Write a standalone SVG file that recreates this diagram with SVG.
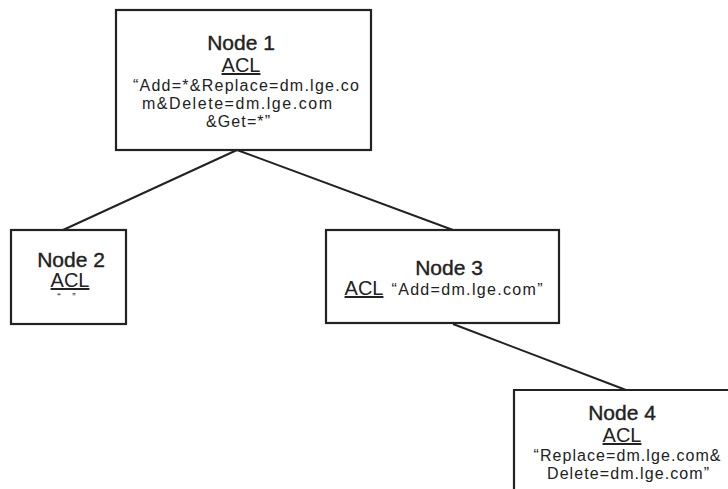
<svg xmlns="http://www.w3.org/2000/svg" width="728" height="489" viewBox="0 0 728 489">
<style>
.box{fill:#fff;stroke:#222;stroke-width:2.2}
.edge{stroke:#222;stroke-width:2;fill:none}
text{font-family:"Liberation Sans",Arial,sans-serif;fill:#222;text-anchor:middle}
.t{font-size:21px;stroke:#222;stroke-width:0.4}
.acl{font-size:20px;text-decoration:underline}
.v{font-size:16px}
.q{font-size:10px}
</style>
<rect width="728" height="489" fill="#fff"/>
<g id="connectors">
<line class="edge" x1="237" y1="150" x2="63" y2="230"/>
<line class="edge" x1="237" y1="150" x2="453" y2="230"/>
<line class="edge" x1="453" y1="324" x2="626" y2="390"/>
</g>
<g id="node1">
<rect class="box" x="116" y="10" width="255" height="140"/>
<text class="t" x="241" y="50">Node 1</text>
<text class="acl" x="241" y="72">ACL</text>
<text class="v" x="246" y="91" textLength="226" lengthAdjust="spacing">“Add=*&amp;Replace=dm.lge.co</text>
<text class="v" x="237" y="109" textLength="190" lengthAdjust="spacing">m&amp;Delete=dm.lge.com</text>
<text class="v" x="238" y="127" textLength="64" lengthAdjust="spacing">&amp;Get=*”</text>
</g>
<g id="node2">
<rect class="box" x="11" y="230" width="115" height="94"/>
<text class="t" x="71" y="267">Node 2</text>
<text class="acl" x="70" y="287">ACL</text>
<text class="q" x="59" y="301">“</text>
<text class="q" x="74" y="301">”</text>
</g>
<g id="node3">
<rect class="box" x="326" y="230" width="233" height="93"/>
<text class="t" x="449" y="275">Node 3</text>
<text class="acl" x="364" y="295">ACL</text>
<text class="v" x="467" y="295" textLength="151" lengthAdjust="spacing">“Add=dm.lge.com”</text>
</g>
<g id="node4">
<path class="box" d="M514 500 V390 H740"/>
<text class="t" x="622" y="420">Node 4</text>
<text class="acl" x="622" y="442">ACL</text>
<text class="v" x="627" y="461" textLength="187" lengthAdjust="spacing">“Replace=dm.lge.com&amp;</text>
<text class="v" x="628" y="479" textLength="162" lengthAdjust="spacing">Delete=dm.lge.com”</text>
</g>
</svg>
